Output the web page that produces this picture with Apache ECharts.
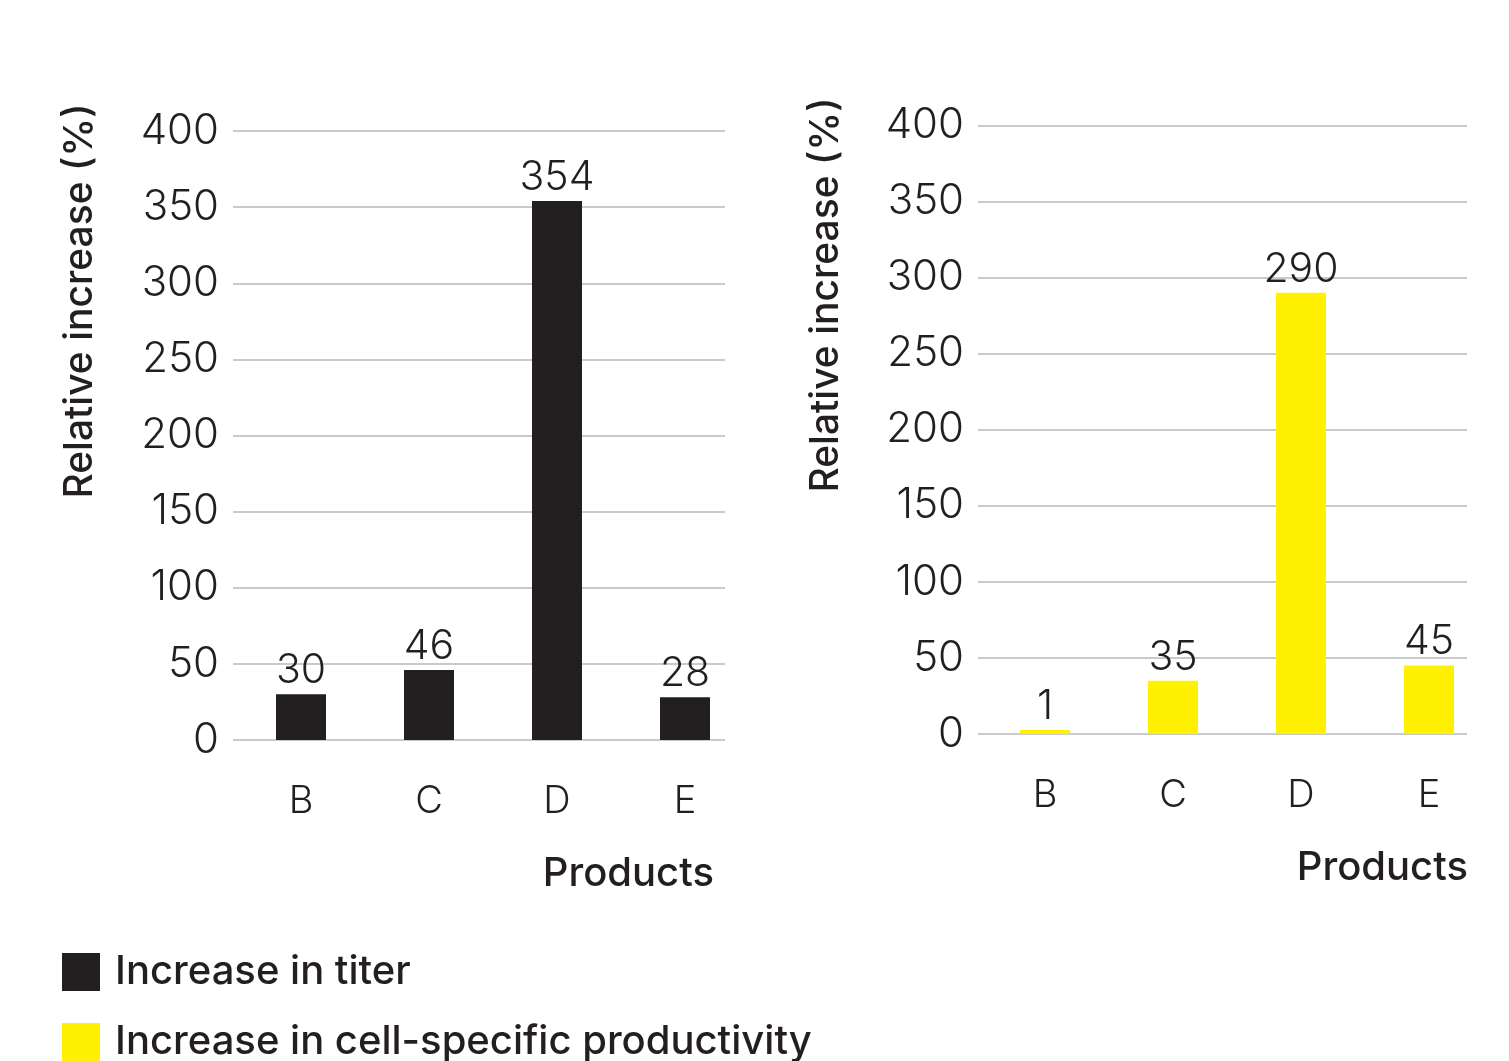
<!DOCTYPE html>
<html>
<head>
<meta charset="utf-8">
<style>
  html, body { margin: 0; padding: 0; background: #ffffff; }
  #chart { width: 1509px; height: 1061px; }
</style>
<script src="https://cdn.jsdelivr.net/npm/echarts@6/dist/echarts.min.js"></script>
</head>
<body>
<div id="chart"></div>
<script>
// Products compared in both panels
const categories = ['B', 'C', 'D', 'E'];
// Relative increase (%) in titer
const titerValues = [30, 46, 354, 28];
// Relative increase (%) in cell-specific productivity
const productivityValues = [1, 35, 290, 45];
// Value axis range shared by both panels
const axisMin = 0;
const axisMax = 400;
const axisStep = 50;

const seriesNames = ['Increase in titer', 'Increase in cell-specific productivity'];
const ink = '#231f20';
const yellow = '#fff100';
const gridGray = '#b8b8ba';
const fontFamily = 'Inter, Lato, "Noto Sans", sans-serif';

const chart = echarts.init(document.getElementById('chart'), null, { renderer: 'canvas' });

// Each panel uses two grids: one carries the value scale and its gridlines,
// the other carries the category bands the bars sit in.
function scaleAxis(gridIndex, showLabels) {
  return {
    type: 'value', gridIndex: gridIndex, min: axisMin, max: axisMax, interval: axisStep,
    axisLine: { show: false }, axisTick: { show: false },
    axisLabel: showLabels ? { color: ink, fontSize: 42, fontWeight: 300, fontFamily: fontFamily, margin: 14 } : { show: false },
    splitLine: showLabels ? { show: true, lineStyle: { color: gridGray, width: 1.5 } } : { show: false }
  };
}
function bandAxis(gridIndex, showLabels) {
  return {
    type: 'category', gridIndex: gridIndex, data: categories,
    axisLine: { show: false }, axisTick: { show: false },
    axisLabel: showLabels ? { color: ink, fontSize: 38, fontWeight: 300, fontFamily: fontFamily, margin: 43 } : { show: false },
    splitLine: { show: false }
  };
}
function barSeries(name, values, color, axisIndex) {
  return {
    name: name, type: 'bar', data: values,
    xAxisIndex: axisIndex, yAxisIndex: axisIndex,
    barWidth: 50, barMinHeight: 4,
    itemStyle: { color: color },
    label: {
      show: true, position: 'top', distance: 3,
      color: ink, fontSize: 41, fontWeight: 300, fontFamily: fontFamily
    }
  };
}
function titleText(text, x, y, rotate, align) {
  return {
    type: 'text', x: x, y: y, rotation: rotate ? Math.PI / 2 : 0,
    style: {
      text: text, fill: ink, fontSize: rotate ? 39 : 40, fontWeight: 500, fontFamily: fontFamily,
      align: align, verticalAlign: 'middle', textAlign: align, textVerticalAlign: 'middle'
    }
  };
}
function legendFor(name, top) {
  return {
    orient: 'vertical', left: 62, top: top, padding: 0,
    itemWidth: 38, itemHeight: 38,
    icon: 'rect',
    data: [name],
    textStyle: { color: ink, fontSize: 40, fontWeight: 500, fontFamily: fontFamily, lineHeight: 42, padding: [0, 0, 0, 10] }
  };
}

chart.setOption({
  backgroundColor: '#ffffff',
  animation: false,
  grid: [
    { left: 233, top: 131, width: 492, height: 609 },
    { left: 237, top: 131, width: 512, height: 609 },
    { left: 978, top: 125.5, width: 489, height: 608.5 },
    { left: 981, top: 125.5, width: 512, height: 608.5 }
  ],
  xAxis: [
    bandAxis(0, false), bandAxis(1, true),
    bandAxis(2, false), bandAxis(3, true)
  ],
  yAxis: [
    scaleAxis(0, true), scaleAxis(1, false),
    scaleAxis(2, true), scaleAxis(3, false)
  ],
  legend: [
    legendFor(seriesNames[0], 951),
    legendFor(seriesNames[1], 1021)
  ],
  series: [
    barSeries(seriesNames[0], titerValues, ink, 1),
    barSeries(seriesNames[1], productivityValues, yellow, 3)
  ],
  graphic: [
    titleText('Relative increase (%)', 80, 301, true, 'center'),
    titleText('Relative increase (%)', 826, 295, true, 'center'),
    titleText('Products', 714, 874, false, 'right'),
    titleText('Products', 1468, 868, false, 'right')
  ]
});
</script>
</body>
</html>
